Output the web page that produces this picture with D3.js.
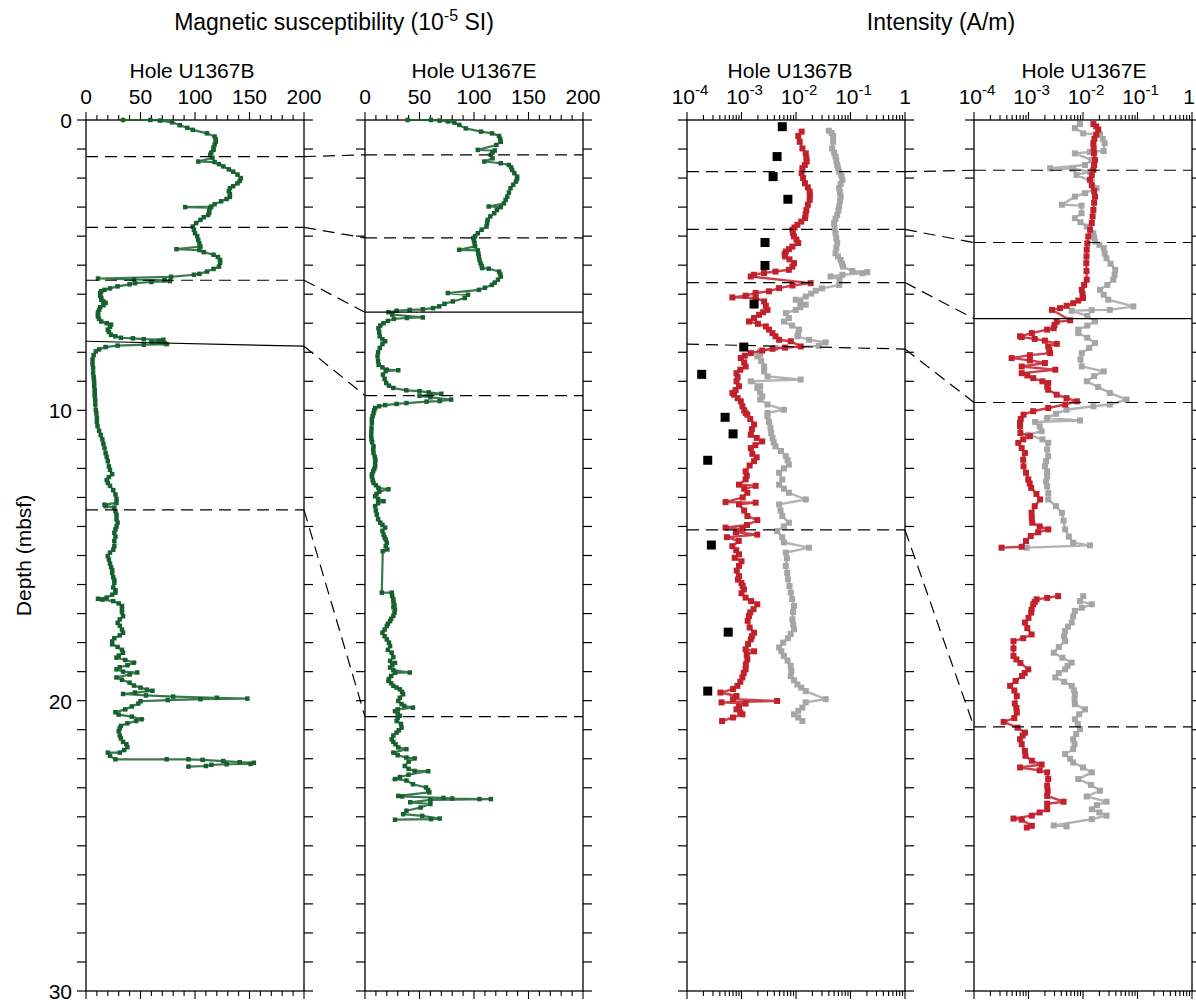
<!DOCTYPE html>
<html>
<head>
<meta charset="utf-8">
<script src="https://cdn.jsdelivr.net/npm/d3@7"></script>
<style>
  body { margin: 0; background: #fff; }
  text { font-family: "Liberation Sans", Arial, Helvetica, sans-serif; fill: #000; }
</style>
</head>
<body>
<svg id="chart" width="1196" height="1003"></svg>
<script>
// ---- axis definitions ----
const depthDomain = [0, 30];
const depthLabels = [0, 10, 20, 30];
const msDomain = [0, 200];
const msTickLabels = [0, 50, 100, 150, 200];
const intDomain = [1e-4, 1];
const intTickLabels = [1e-4, 1e-3, 1e-2, 1e-1, 1];
const holeNames = ["Hole U1367B", "Hole U1367E"];

// ---- magnetic susceptibility, [depth (mbsf), MS (10^-5 SI)] ----
const msHoleB = [
  [0.00,34],[0.00,59],[0.02,68],[0.08,79],[0.18,86],[0.27,93],[0.34,98],[0.46,111],[0.57,118],[0.66,119],
  [0.75,119],[0.85,118],[0.95,117],[1.03,117],[1.12,115],[1.20,114],[1.30,116],[1.43,103],[1.45,118],[1.52,122],
  [1.60,126],[1.70,131],[1.78,135],[1.88,139],[2.00,142],[2.10,141],[2.18,139],[2.28,135],[2.35,132],[2.45,131],
  [2.55,132],[2.65,132],[2.72,129],[2.80,124],[2.90,118],[2.98,115],[3.00,91],[3.02,114],[3.12,113],[3.20,113],
  [3.27,112],[3.35,108],[3.44,105],[3.55,101],[3.67,98],[3.78,99],[3.90,100],[4.00,102],[4.13,103],[4.25,104],
  [4.36,105],[4.45,83],[4.48,104],[4.55,108],[4.64,117],[4.72,121],[4.82,123],[4.92,123],[5.05,122],[5.13,117],
  [5.22,111],[5.30,104],[5.33,99],[5.40,78],[5.46,11],[5.49,44],[5.52,72],[5.55,77],[5.58,60],[5.62,45],
  [5.66,40],[5.73,29],[5.80,22],[5.85,17],[5.90,14],[5.96,13],[6.05,13],[6.12,14],[6.19,14],[6.25,16],
  [6.30,18],[6.38,16],[6.45,13],[6.54,12],[6.62,11],[6.70,11],[6.77,11],[6.85,12],[6.94,14],[7.00,19],
  [7.05,23],[7.12,22],[7.22,20],[7.30,21],[7.40,23],[7.45,27],[7.50,32],[7.52,43],[7.55,53],[7.57,71],
  [7.60,67],[7.65,60],[7.68,72],[7.72,74],[7.74,53],[7.77,29],[7.82,18],[7.90,12],[7.97,9],[8.10,7],
  [8.25,6],[8.40,6],[8.55,6.5],[8.71,6.5],[8.85,7],[8.94,7.3],[9.05,7.5],[9.17,7.5],[9.30,8],[9.40,8],
  [9.52,8],[9.65,8.5],[9.80,8.5],[9.98,9],[10.10,9.5],[10.25,10],[10.40,10],[10.55,10.6],[10.70,12],[10.85,13.5],
  [11.00,15],[11.15,16],[11.30,17],[11.47,18],[11.60,19],[11.75,20],[11.93,21],[12.05,22],[12.20,24],[12.30,21],
  [12.40,19],[12.50,20],[12.60,22],[12.75,25],[12.90,27],[13.05,28],[13.19,28],[13.25,17],[13.30,18],[13.35,26],
  [13.47,27],[13.60,28],[13.75,28],[13.87,29],[14.00,28],[14.10,27],[14.22,26],[14.35,27],[14.50,26],[14.68,26],
  [14.80,25],[14.90,22],[15.02,20],[15.14,21],[15.28,22],[15.40,23],[15.50,24],[15.60,24],[15.75,25],[15.85,26],
  [15.94,26],[16.10,25],[16.20,27],[16.28,27],[16.35,24],[16.45,19],[16.49,11],[16.52,15],[16.57,25],[16.65,30],
  [16.74,33],[16.85,33],[16.95,33],[17.09,34],[17.20,31],[17.32,29],[17.42,31],[17.55,33],[17.66,34],[17.75,31],
  [17.85,26],[17.96,24],[18.06,24],[18.15,29],[18.25,33],[18.35,34],[18.45,30],[18.52,28],[18.60,36],[18.69,44],
  [18.78,38],[18.85,31],[18.92,28],[19.00,34],[19.03,47],[19.10,40],[19.20,28],[19.28,33],[19.38,40],[19.48,44],
  [19.55,50],[19.62,56],[19.66,61],[19.72,45],[19.77,34],[19.82,55],[19.86,80],[19.90,120],[19.93,148],[19.95,105],
  [19.98,75],[20.02,50],[20.10,48],[20.20,42],[20.30,36],[20.40,27],[20.48,30],[20.55,42],[20.64,51],[20.70,46],
  [20.78,38],[20.87,32],[20.95,31],[21.05,30],[21.20,31],[21.30,32],[21.42,34],[21.50,37],[21.60,38],[21.70,35],
  [21.79,31],[21.79,20],[21.90,22],[22.02,27],[22.02,74],[22.02,94],[22.04,107],[22.08,126],[22.12,141],[22.14,154],
  [22.18,151],[22.19,129],[22.21,115],[22.25,110],[22.27,94]
];

const msHoleE = [
  [0.00,39],[0.00,60.5],[0.02,68.5],[0.05,76],[0.09,82],[0.17,86.5],[0.29,92.5],[0.40,106.5],[0.46,116.5],[0.55,123],
  [0.65,124],[0.75,124.5],[0.86,120.5],[1.03,103.5],[1.05,119],[1.12,117],[1.20,115.5],[1.32,117],[1.43,109.5],[1.49,124.5],
  [1.55,132],[1.63,134],[1.72,135],[1.83,137],[1.95,139.5],[2.03,139.5],[2.12,138.5],[2.23,136],[2.35,133.5],[2.50,132],
  [2.64,130.5],[2.75,129],[2.87,127.5],[2.98,113.5],[3.00,124.5],[3.10,121],[3.21,118.5],[3.32,115],[3.44,112.5],[3.55,112],
  [3.67,111.5],[3.78,107],[3.90,103.5],[4.00,101],[4.07,99.5],[4.15,100],[4.24,100.5],[4.35,101],[4.47,86.5],[4.49,103.5],
  [4.60,104],[4.70,104.5],[4.82,105],[4.93,106],[5.02,107],[5.10,107.5],[5.12,113.5],[5.22,123],[5.30,124],[5.39,124.5],
  [5.50,122],[5.60,119],[5.68,116.5],[5.78,110],[5.85,104.5],[5.96,76],[6.02,94.5],[6.13,91.5],[6.25,80.5],[6.33,73],
  [6.42,68],[6.48,62.5],[6.52,53],[6.54,41],[6.57,29],[6.62,21.5],[6.70,25],[6.80,53],[6.82,38.5],[6.85,26.5],
  [6.92,21],[7.00,17],[7.08,14],[7.17,12.3],[7.30,13],[7.45,13.5],[7.55,16],[7.62,18.5],[7.72,16],[7.85,13.5],
  [8.00,12],[8.14,11.5],[8.30,12],[8.43,12.5],[8.52,16],[8.60,20],[8.62,30.5],[8.65,19],[8.77,16.5],[8.92,18],
  [9.06,19.5],[9.15,22],[9.23,26],[9.31,38],[9.34,50],[9.38,58.5],[9.43,70],[9.47,60],[9.50,50],[9.55,60],
  [9.63,79],[9.68,68.5],[9.70,56.5],[9.75,38],[9.78,29],[9.82,18.5],[9.86,13],[9.92,9.3],[10.00,8.5],[10.10,7.8],
  [10.20,7],[10.30,6.3],[10.43,6.3],[10.60,6],[10.75,5.8],[10.90,5.7],[11.00,6],[11.10,6.5],[11.24,7.8],[11.35,7.5],
  [11.47,7.8],[11.60,9],[11.70,9.5],[11.80,9.3],[11.93,9.3],[12.02,8.5],[12.10,7.5],[12.20,6.5],[12.27,6.3],[12.40,7],
  [12.50,7.8],[12.58,10],[12.67,12.3],[12.72,21.5],[12.80,13],[12.88,10.5],[12.96,9.3],[13.05,12],[13.13,17],[13.20,12],
  [13.30,9.3],[13.45,10],[13.59,10.8],[13.75,12],[13.87,14],[13.95,16],[14.04,18.5],[14.15,16],[14.28,17],[14.38,18],
  [14.45,19],[14.56,20],[14.68,19],[14.79,20.5],[14.85,16.3],[16.28,15.4],[16.28,24.5],[16.40,25],[16.51,26],[16.60,26],
  [16.70,27],[16.78,26],[16.86,27.5],[16.97,27],[17.08,26],[17.18,24],[17.26,23],[17.35,21],[17.43,20],[17.55,18],
  [17.66,16],[17.78,18],[17.89,20],[18.00,22],[18.12,23],[18.25,21],[18.35,24.5],[18.50,26],[18.63,23],[18.70,27.5],
  [18.78,25],[18.86,23],[18.95,26],[19.03,41],[19.04,27.5],[19.15,24],[19.25,22],[19.32,21.5],[19.40,24],[19.49,26],
  [19.55,29],[19.61,32],[19.70,34],[19.78,35],[19.90,32],[20.01,30.5],[20.12,33.5],[20.18,36],[20.24,44],[20.30,30],
  [20.36,27.5],[20.45,30],[20.52,32],[20.60,30],[20.70,29],[20.80,33],[20.93,33.5],[21.02,31],[21.10,29],[21.20,26],
  [21.33,24.5],[21.42,26],[21.50,28],[21.61,30.5],[21.67,38],[21.79,26],[21.88,30],[21.96,38],[21.99,45.5],[22.10,40],
  [22.25,36.5],[22.35,40],[22.42,45.5],[22.43,58],[22.55,40],[22.63,32],[22.70,27.5],[22.75,38],[22.88,44],[22.99,56],
  [23.08,58],[23.16,59],[23.28,30.5],[23.30,34],[23.35,72],[23.37,80],[23.39,105],[23.39,115.5],[23.42,60],[23.50,41.5],
  [23.56,60],[23.68,51],[23.79,38],[23.91,35],[23.97,52.5],[24.06,68.5],[24.08,60.5],[24.10,27.5]
];

// ---- remanence intensity, [depth (mbsf), intensity (A/m)] ----
// Hole U1367B, after demagnetization (red)
const intDemagB = [
  [0.40,1.27e-2],[0.55,1.10e-2],[0.75,1.17e-2],[0.98,1.31e-2],[1.15,1.51e-2],[1.30,1.55e-2],[1.43,1.57e-2],[1.55,1.45e-2],[1.66,1.31e-2],[1.83,1.27e-2],
  [2.00,1.35e-2],[2.18,1.46e-2],[2.32,1.65e-2],[2.47,1.78e-2],[2.60,1.80e-2],[2.75,1.78e-2],[2.92,1.65e-2],[3.10,1.55e-2],[3.25,1.50e-2],[3.38,1.46e-2],
  [3.50,1.25e-2],[3.61,1.06e-2],[3.70,9.4e-3],[3.78,8.6e-3],[3.90,8.8e-3],[4.01,9.2e-3],[4.12,1.02e-2],[4.24,1.10e-2],[4.36,8.6e-3],[4.45,7.4e-3],
  [4.53,6.5e-3],[4.62,6.2e-3],[4.70,6.3e-3],[4.80,7.6e-3],[4.93,9.2e-3],[5.05,8.6e-3],[5.16,7.4e-3],[5.22,4.2e-3],[5.27,2.6e-3],[5.33,1.7e-3],
  [5.39,1.48e-3],[5.62,1.86e-2],[5.70,8.6e-3],[5.79,4.9e-3],[5.90,3.2e-3],[5.96,1.82e-3],[6.05,1.19e-3],[6.11,6.8e-4],[6.13,1.82e-3],[6.25,2.6e-3],
  [6.40,2.8e-3],[6.54,3.0e-3],[6.62,2.5e-3],[6.71,2.1e-3],[6.82,1.7e-3],[6.94,1.37e-3],[7.02,2.0e-3],[7.11,2.8e-3],[7.22,3.2e-3],[7.34,3.7e-3],
  [7.45,4.2e-3],[7.57,4.9e-3],[7.62,8.0e-3],[7.80,1.22e-2],[7.84,6.3e-3],[7.88,3.7e-3],[7.94,2.4e-3],[8.03,1.48e-3],[8.12,1.15e-3],[8.20,9.7e-4],
  [8.35,1.12e-3],[8.49,1.19e-3],[8.60,9.5e-4],[8.72,8.1e-4],[8.86,8.5e-4],[9.00,8.1e-4],[9.17,9.0e-4],[9.30,7.8e-4],[9.40,6.8e-4],[9.46,7.3e-4],
  [9.58,8.5e-4],[9.69,9.7e-4],[9.86,1.04e-3],[10.00,1.12e-3],[10.09,1.19e-3],[10.15,1.28e-3],[10.30,1.45e-3],[10.49,1.70e-3],[10.65,1.55e-3],[10.84,1.48e-3],
  [10.95,1.9e-3],[11.07,2.4e-3],[11.20,1.8e-3],[11.30,1.48e-3],[11.50,1.58e-3],[11.62,1.9e-3],[11.75,1.70e-3],[11.90,1.41e-3],[12.10,1.19e-3],[12.25,1.25e-3],
  [12.38,1.19e-3],[12.56,9.0e-4],[12.60,1.82e-3],[12.70,1.12e-3],[12.84,1.28e-3],[13.00,1.05e-3],[13.16,5.1e-4],[13.18,1.82e-3],[13.24,9.0e-4],[13.45,1.12e-3],
  [13.64,1.28e-3],[13.78,1.95e-3],[13.95,1.26e-3],[14.04,5.1e-4],[14.08,1.04e-3],[14.20,7.9e-4],[14.28,1.95e-3],[14.37,5.4e-4],[14.50,8.9e-4],[14.68,6.8e-4],
  [14.82,8.0e-4],[14.96,9.0e-4],[15.08,7.5e-4],[15.20,1.0e-3],[15.36,9.0e-4],[15.52,8.2e-4],[15.71,9.0e-4],[15.83,8.6e-4],[15.95,1.0e-3],[16.05,1.05e-3],
  [16.17,1.11e-3],[16.30,1.0e-3],[16.45,1.19e-3],[16.57,1.5e-3],[16.68,1.95e-3],[16.85,1.66e-3],[16.96,1.45e-3],[17.08,1.37e-3],[17.25,1.3e-3],[17.48,1.41e-3],
  [17.66,1.70e-3],[17.78,1.55e-3],[17.89,1.48e-3],[18.05,1.32e-3],[18.23,1.19e-3],[18.30,1.70e-3],[18.42,1.25e-3],[18.58,1.28e-3],[18.75,1.2e-3],[18.92,1.19e-3],
  [19.05,1.1e-3],[19.20,1.04e-3],[19.35,9.5e-4],[19.49,8.4e-4],[19.60,7.0e-4],[19.72,4.1e-4],[19.84,8.1e-4],[19.95,7.0e-4],[20.01,4.5e-3],[20.06,4.3e-4],
  [20.10,1.19e-3],[20.20,9.0e-4],[20.30,8.1e-4],[20.40,9.5e-4],[20.47,1.04e-3],[20.58,7.0e-4],[20.70,4.4e-4]
];
// Hole U1367B, natural remanence (gray)
const intNrmB = [
  [0.37,4.0e-2],[0.45,4.5e-2],[0.55,4.8e-2],[0.75,4.8e-2],[0.98,4.6e-2],[1.12,5.0e-2],[1.26,5.3e-2],[1.40,5.5e-2],[1.55,5.7e-2],[1.66,5.9e-2],
  [1.78,6.2e-2],[1.92,6.8e-2],[2.06,7.1e-2],[2.20,6.6e-2],[2.35,6.2e-2],[2.50,6.4e-2],[2.64,6.6e-2],[2.80,6.4e-2],[2.98,6.2e-2],[3.12,6.0e-2],
  [3.27,5.7e-2],[3.40,5.3e-2],[3.55,5.0e-2],[3.72,5.1e-2],[3.90,5.3e-2],[4.07,5.5e-2],[4.24,5.7e-2],[4.40,5.5e-2],[4.59,5.3e-2],[4.70,5.9e-2],
  [4.82,6.6e-2],[4.95,7.0e-2],[5.05,7.3e-2],[5.20,1.08e-1],[5.24,2.03e-1],[5.28,1.66e-1],[5.33,7.1e-2],[5.39,4.3e-2],[5.50,6.3e-2],[5.68,6.2e-2],
  [5.80,3.0e-2],[5.88,2.3e-2],[5.98,1.9e-2],[6.08,1.51e-2],[6.19,9.9e-3],[6.27,1.2e-2],[6.36,1.51e-2],[6.45,1.2e-2],[6.54,9.9e-3],[6.65,6.5e-3],
  [6.82,7.4e-3],[6.94,6.0e-3],[7.08,8.5e-3],[7.22,1.14e-2],[7.34,1.1e-2],[7.45,1.06e-2],[7.57,1.73e-2],[7.66,3.5e-2],[7.78,2.6e-2],[7.85,4.2e-3],
  [7.97,2.2e-3],[8.08,2.2e-3],[8.14,1.95e-3],[8.30,2.3e-3],[8.49,2.6e-3],[8.66,2.6e-3],[8.83,3.0e-3],[8.94,1.22e-2],[9.00,1.48e-3],[9.17,2.2e-3],
  [9.23,1.95e-3],[9.38,2.2e-3],[9.52,2.4e-3],[9.63,2.2e-3],[9.80,3.0e-3],[9.98,6.0e-3],[10.09,3.0e-3],[10.20,3.0e-3],[10.40,3.2e-3],[10.60,3.4e-3],
  [10.78,3.5e-3],[10.95,3.7e-3],[11.10,3.9e-3],[11.24,4.2e-3],[11.40,5.3e-3],[11.58,6.5e-3],[11.72,7.0e-3],[11.87,7.4e-3],[12.00,6.0e-3],[12.15,4.9e-3],
  [12.38,5.6e-3],[12.56,4.9e-3],[12.70,6.0e-3],[12.84,7.4e-3],[13.07,1.51e-2],[13.24,4.9e-3],[13.45,5.2e-3],[13.64,5.6e-3],[13.87,7.4e-3],[14.00,6.0e-3],
  [14.16,4.5e-3],[14.37,5.6e-3],[14.55,6.0e-3],[14.73,1.73e-2],[14.90,6.5e-3],[15.10,6.8e-3],[15.36,6.5e-3],[15.60,6.9e-3],[15.82,7.1e-3],[16.05,7.6e-3],
  [16.28,8.0e-3],[16.50,8.5e-3],[16.74,9.2e-3],[16.95,8.8e-3],[17.20,8.6e-3],[17.38,8.9e-3],[17.54,9.2e-3],[17.70,8.0e-3],[17.85,7.1e-3],[18.00,5.8e-3],
  [18.17,4.9e-3],[18.30,5.4e-3],[18.46,6.0e-3],[18.62,7.0e-3],[18.80,8.0e-3],[18.98,8.2e-3],[19.15,8.0e-3],[19.30,9.2e-3],[19.44,1.06e-2],[19.55,1.25e-2],
  [19.67,1.51e-2],[19.95,3.5e-2],[20.06,1.51e-2],[20.24,1.31e-2],[20.35,1.1e-2],[20.47,9.2e-3],[20.58,1.1e-2],[20.70,1.31e-2]
];
// Hole U1367B, discrete samples (black)
const intDiscreteB = [
  [0.23,5.6e-3],[1.26,4.5e-3],[1.95,3.8e-3],[2.73,7.1e-3],[4.22,2.7e-3],[5.01,2.7e-3],[6.34,1.7e-3],[7.82,1.1e-3],
  [8.76,1.86e-4],[10.24,5.0e-4],[10.81,7.0e-4],[11.72,2.4e-4],[14.64,2.8e-4],[17.64,5.7e-4],[19.67,2.4e-4]
];
// Hole U1367E, after demagnetization (red); null marks a gap between cores
const intDemagE = [
  [0.14,1.55e-2],[0.22,1.75e-2],[0.33,1.91e-2],[0.50,1.75e-2],[0.65,1.62e-2],[0.80,1.55e-2],[0.98,1.57e-2],[1.15,1.59e-2],[1.38,1.66e-2],[1.55,1.6e-2],
  [1.72,1.55e-2],[1.90,1.45e-2],[2.06,1.34e-2],[2.25,1.45e-2],[2.45,1.6e-2],[2.64,1.66e-2],[2.85,1.6e-2],[3.10,1.55e-2],[3.32,1.5e-2],[3.55,1.45e-2],
  [3.78,1.35e-2],[4.01,1.25e-2],[4.25,1.2e-2],[4.47,1.17e-2],[4.70,1.16e-2],[4.93,1.15e-2],[5.20,1.16e-2],[5.50,1.17e-2],[5.68,1.05e-2],[5.85,9.5e-3],
  [6.00,9.8e-3],[6.13,1.0e-2],[6.22,8.2e-3],[6.31,6.6e-3],[6.40,5.0e-3],[6.48,3.8e-3],[6.54,2.7e-3],[6.90,5.8e-3],[6.95,3.3e-3],[7.06,3.0e-3],
  [7.17,2.9e-3],[7.22,2.2e-3],[7.34,1.15e-3],[7.45,7.0e-4],[7.48,7.5e-4],[7.54,1.3e-3],[7.60,2.0e-3],[7.71,3.3e-3],[7.80,2.3e-3],[7.92,2.4e-3],
  [8.03,2.5e-3],[8.10,1.06e-3],[8.20,4.9e-4],[8.28,1.06e-3],[8.37,2.0e-3],[8.49,7.5e-4],[8.60,3.1e-3],[8.72,7.5e-4],[8.80,9.5e-4],[8.89,1.22e-3],
  [9.00,1.8e-3],[9.06,2.3e-3],[9.18,2.2e-3],[9.29,2.3e-3],[9.46,3.3e-3],[9.58,5.0e-3],[9.69,7.7e-3],[9.80,4.7e-3],[9.92,2.3e-3],[10.03,1.22e-3],
  [10.15,8.1e-4],[10.30,7.2e-4],[10.43,7.0e-4],[10.55,7.0e-4],[10.78,7.1e-4],[10.89,1.06e-3],[11.00,8.0e-4],[11.12,6.5e-4],[11.30,7.5e-4],[11.47,8.6e-4],
  [11.70,8.0e-4],[11.93,8.1e-4],[12.15,9.0e-4],[12.38,9.9e-4],[12.52,1.05e-3],[12.67,1.12e-3],[12.88,1.4e-3],[13.07,1.63e-3],[13.30,1.3e-3],[13.53,1.14e-3],
  [13.70,1.15e-3],[13.87,1.17e-3],[14.00,1.6e-3],[14.10,2.3e-3],[14.20,1.5e-3],[14.33,1.10e-3],[14.50,9.0e-4],[14.70,7.5e-4],[14.73,3.2e-4],
  [15.50,null],
  [16.40,3.5e-3],[16.46,2.2e-3],[16.51,1.41e-3],[16.60,1.3e-3],[16.68,1.22e-3],[16.86,1.14e-3],[16.97,1.12e-3],[17.15,1.0e-3],[17.31,8.6e-4],[17.50,9.5e-4],
  [17.72,1.14e-3],[17.85,8.0e-4],[17.95,5.3e-4],[18.20,5.3e-4],[18.46,5.3e-4],[18.58,6.0e-4],[18.70,7.1e-4],[18.92,9.9e-4],[19.05,8.5e-4],[19.15,7.6e-4],
  [19.32,5.8e-4],[19.49,4.6e-4],[19.65,5.5e-4],[19.84,6.1e-4],[20.10,5.6e-4],[20.25,6.0e-4],[20.41,6.1e-4],[20.60,5.5e-4],[20.73,3.5e-4],[20.93,6.3e-4],
  [21.10,8.6e-4],[21.20,7.8e-4],[21.33,7.0e-4],[21.50,7.5e-4],[21.73,8.6e-4],[21.90,8.8e-4],[22.07,1.15e-3],[22.20,1.74e-3],[22.30,7.0e-4],[22.40,1.6e-3],
  [22.47,2.2e-3],[22.70,2.3e-3],[22.93,2.2e-3],[23.10,2.25e-3],[23.28,2.2e-3],[23.48,4.4e-3],[23.55,2.2e-3],[23.74,2.2e-3],[23.85,1.6e-3],[23.96,1.15e-3],
  [24.06,5.3e-4],[24.10,7.5e-4],[24.31,1.15e-3],[24.37,9.3e-4]
];
// Hole U1367E, natural remanence (gray); null marks a gap between cores
const intNrmE = [
  [0.14,8.8e-3],[0.28,7.1e-3],[0.46,1.01e-2],[0.50,2.05e-2],[0.65,2.3e-2],[0.80,2.5e-2],[1.07,2.4e-2],[1.10,1.34e-2],[1.15,7.1e-3],[1.38,1.44e-2],
  [1.55,1.09e-2],[1.66,2.5e-3],[1.68,6.6e-3],[1.78,1.34e-2],[1.89,7.6e-3],[2.12,1.44e-2],[2.35,1.78e-2],[2.52,1.09e-2],[2.64,7.1e-3],[2.92,4.1e-3],
  [2.95,9.4e-3],[3.21,9.4e-3],[3.38,7.1e-3],[3.52,9.0e-3],[3.67,1.17e-2],[3.90,1.55e-2],[4.05,1.6e-2],[4.18,1.66e-2],[4.30,2.0e-2],[4.41,2.4e-2],
  [4.60,2.5e-2],[4.76,2.7e-2],[4.95,3.2e-2],[5.16,3.9e-2],[5.33,3.8e-2],[5.50,3.6e-2],[5.68,2.8e-2],[5.85,2.05e-2],[6.02,2.4e-2],[6.19,2.9e-2],
  [6.42,8.4e-2],[6.54,3.1e-2],[6.55,1.44e-2],[6.57,6.2e-3],[6.75,1.2e-2],[6.94,1.66e-2],[7.08,1.2e-2],[7.22,8.2e-3],[7.34,8.2e-3],[7.50,1.2e-2],
  [7.68,1.66e-2],[7.85,1.3e-2],[8.03,9.5e-3],[8.25,9.0e-3],[8.49,9.5e-3],[8.66,2.4e-2],[8.82,1.6e-2],[9.00,1.17e-2],[9.20,1.9e-2],[9.40,3.1e-2],
  [9.63,6.3e-2],[9.80,3.1e-2],[9.86,1.55e-2],[9.98,5.0e-3],[10.12,3.2e-3],[10.26,2.2e-3],[10.35,8.8e-3],[10.40,1.32e-3],[10.55,1.6e-3],[10.72,1.74e-3],
  [10.84,9.9e-4],[11.00,1.8e-3],[11.12,2.3e-3],[11.35,2.2e-3],[11.58,2.3e-3],[11.75,2.1e-3],[11.93,2.0e-3],[12.10,2.2e-3],[12.27,2.2e-3],[12.45,2.1e-3],
  [12.62,2.2e-3],[12.85,2.3e-3],[13.07,2.3e-3],[13.30,3.2e-3],[13.53,4.1e-3],[13.80,4.4e-3],[14.10,4.7e-3],[14.35,5.5e-3],[14.56,6.6e-3],[14.65,1.34e-2],
  [14.73,9.3e-4],
  [15.50,null],
  [16.40,1.01e-2],[16.57,8.8e-3],[16.68,1.45e-2],[16.80,9.5e-3],[16.91,7.1e-3],[17.10,6.6e-3],[17.31,6.2e-3],[17.45,5.3e-3],[17.60,4.7e-3],[17.78,4.5e-3],
  [17.95,4.7e-3],[18.15,3.6e-3],[18.35,2.9e-3],[18.52,4.2e-3],[18.69,6.2e-3],[18.80,5.2e-3],[18.92,4.7e-3],[19.05,3.6e-3],[19.20,3.1e-3],[19.35,4.5e-3],
  [19.49,6.2e-3],[19.64,6.8e-3],[19.78,7.1e-3],[19.95,7.0e-3],[20.12,7.1e-3],[20.30,1.09e-2],[20.47,8.5e-3],[20.64,7.1e-3],[20.80,8.0e-3],[20.98,8.8e-3],
  [21.15,7.5e-3],[21.33,6.6e-3],[21.50,7.0e-3],[21.67,6.6e-3],[21.84,4.7e-3],[22.00,5.8e-3],[22.13,6.6e-3],[22.30,1.0e-2],[22.47,1.45e-2],[22.70,8.2e-3],
  [22.90,1.4e-2],[23.10,2.05e-2],[23.30,1.17e-2],[23.48,2.7e-2],[23.60,1.8e-2],[23.74,1.45e-2],[23.85,2.0e-2],[23.96,2.7e-2],[24.08,1.45e-2],[24.30,2.9e-3],
  [24.33,5.0e-3]
];

// ---- core correlation ties, depths in mbsf; B lines given at left and right panel edges ----
const msTiesB = [[1.26,1.26],[3.70,3.70],[5.52,5.52],[7.62,7.79],[13.43,13.43]];
const msTiesE = [1.20, 4.06, 6.62, 9.49, 20.55];
const msTieSolidB = [false, false, false, true, false];
const msTieSolidE = [false, false, true, false, false];
const intTiesB = [[1.78,1.78],[3.77,3.77],[5.60,5.60],[7.72,7.89],[14.12,14.12]];
const intTiesE = [1.73, 4.22, 6.84, 9.73, 20.90];
const intTieSolidE = [false, false, true, false, false];

// ---- layout ----
const svg = d3.select("#chart");
const yTop = 120, yBottom = 991;
const y = d3.scaleLinear().domain(depthDomain).range([yTop, yBottom]);

const colGreen = "#17602f", colRed = "#c2202b", colGray = "#a5a5a5";
const dash = "12,7";

const xMS = [
  d3.scaleLinear().domain(msDomain).range([86, 304]),
  d3.scaleLinear().domain(msDomain).range([365, 583])
];
const xInt = [
  d3.scaleLog().domain(intDomain).range([687, 905]),
  d3.scaleLog().domain(intDomain).range([974, 1192])
];
const msTitleX = [192, 474];
const intTitleX = [790, 1084];

// group titles
const t1 = svg.append("text").attr("x", 334).attr("y", 30).attr("text-anchor", "middle").attr("font-size", 23)
  .text("Magnetic susceptibility (10");
t1.append("tspan").attr("dy", -9).attr("font-size", 16).text("-5");
t1.append("tspan").attr("dy", 9).text(" SI)");
svg.append("text").attr("x", 941).attr("y", 30).attr("text-anchor", "middle").attr("font-size", 23)
  .text("Intensity (A/m)");

// depth axis title
svg.append("text").attr("transform", `translate(31,${(yTop + yBottom) / 2}) rotate(-90)`)
  .attr("text-anchor", "middle").attr("font-size", 21).text("Depth (mbsf)");

function frame(x) {
  const [x0, x1] = x.range();
  const g = svg.append("g");
  g.append("rect").attr("x", x0).attr("y", yTop).attr("width", x1 - x0).attr("height", yBottom - yTop)
    .attr("fill", "none").attr("stroke", "#000").attr("stroke-width", 1.3);
  // depth ticks on both sides, outward
  const dt = d3.range(0, 31, 1);
  g.selectAll(null).data(dt).join("line")
    .attr("x1", x0 - 9).attr("x2", x0).attr("y1", d => y(d)).attr("y2", d => y(d))
    .attr("stroke", "#000").attr("stroke-width", 1.2);
  g.selectAll(null).data(dt).join("line")
    .attr("x1", x1).attr("x2", x1 + 9).attr("y1", d => y(d)).attr("y2", d => y(d))
    .attr("stroke", "#000").attr("stroke-width", 1.2);
  return g;
}

function xTicks(g, x, ticks, isMajor) {
  [yTop, yBottom].forEach(yy => {
    const dir = yy === yTop ? -1 : 1;
    g.selectAll(null).data(ticks).join("line")
      .attr("x1", d => x(d)).attr("x2", d => x(d))
      .attr("y1", yy).attr("y2", d => yy + dir * (isMajor(d) ? 8 : 5))
      .attr("stroke", "#000").attr("stroke-width", 1.1);
  });
}

function holeTitle(cx, i) {
  svg.append("text").attr("x", cx).attr("y", 78).attr("text-anchor", "middle")
    .attr("font-size", 21).text(holeNames[i]);
}

function marks(g, x, data, color, size, lineW) {
  const line = d3.line().defined(d => d[1] != null).x(d => x(d[1])).y(d => y(d[0]));
  g.append("path").attr("d", line(data)).attr("fill", "none")
    .attr("stroke", color).attr("stroke-width", lineW).attr("stroke-opacity", 0.85);
  g.selectAll(null).data(data.filter(d => d[1] != null)).join("rect")
    .attr("x", d => x(d[1]) - size / 2).attr("y", d => y(d[0]) - size / 2)
    .attr("width", size).attr("height", size).attr("fill", color);
}

// ---- MS panels ----
xMS.forEach((x, i) => {
  const g = frame(x);
  const t = d3.range(0, 201, 10);
  xTicks(g, x, t, d => d % 50 === 0);
  g.selectAll(null).data(msTickLabels).join("text")
    .attr("x", d => x(d)).attr("y", 104).attr("text-anchor", "middle").attr("font-size", 21).text(d => d);
  holeTitle(msTitleX[i], i);
  marks(svg.append("g"), x, i === 0 ? msHoleB : msHoleE, colGreen, 4.5, 2.2);
});

// depth labels
svg.selectAll(null).data(depthLabels).join("text")
  .attr("x", 72).attr("y", d => y(d) + 8).attr("text-anchor", "end").attr("font-size", 21).text(d => d);

// ---- intensity panels ----
xInt.forEach((x, i) => {
  const g = frame(x);
  const t = [];
  for (let e = -4; e < 0; e++) for (let m = 1; m < 10; m++) t.push(m * Math.pow(10, e));
  t.push(1);
  xTicks(g, x, t, d => Math.abs(Math.log10(d) - Math.round(Math.log10(d))) < 1e-9);
  intTickLabels.forEach(v => {
    const e = Math.round(Math.log10(v));
    const txt = svg.append("text").attr("y", 104).attr("font-size", 21);
    if (e === 0) {
      // keep the last label inside the canvas
      const xr = Math.min(x(v) + 6, 1195);
      txt.attr("x", xr).attr("text-anchor", "end").text("1");
    } else {
      txt.attr("x", x(v) + 3).attr("text-anchor", "middle").text("10");
      txt.append("tspan").attr("dy", -9).attr("font-size", 15).text(String(e));
    }
  });
  holeTitle(intTitleX[i], i);
  const gm = svg.append("g");
  if (i === 0) {
    marks(gm, x, intNrmB, colGray, 6, 2.4);
    marks(gm, x, intDemagB, colRed, 6, 2.4);
    gm.selectAll(null).data(intDiscreteB).join("rect")
      .attr("x", d => x(d[1]) - 4.5).attr("y", d => y(d[0]) - 4.5)
      .attr("width", 9).attr("height", 9).attr("fill", "#000");
  } else {
    marks(gm, x, intNrmE, colGray, 6, 2.4);
    marks(gm, x, intDemagE, colRed, 6, 2.4);
  }
});

// ---- correlation ties ----
function ties(xa, xb, tiesA, tiesB, solidA, solidB) {
  const [a0, a1] = xa.range();
  const [b0, b1] = xb.range();
  const g = svg.append("g").attr("fill", "none").attr("stroke", "#000").attr("stroke-width", 1.2);
  tiesA.forEach((d, k) => {
    g.append("line").attr("x1", a0).attr("x2", a1).attr("y1", y(d[0])).attr("y2", y(d[1]))
      .attr("stroke-dasharray", solidA[k] ? null : dash);
    g.append("line").attr("x1", a1).attr("x2", b0).attr("y1", y(d[1])).attr("y2", y(tiesB[k]))
      .attr("stroke-dasharray", dash);
    g.append("line").attr("x1", b0).attr("x2", b1).attr("y1", y(tiesB[k])).attr("y2", y(tiesB[k]))
      .attr("stroke-dasharray", solidB[k] ? null : dash);
  });
}
ties(xMS[0], xMS[1], msTiesB, msTiesE, msTieSolidB, msTieSolidE);
ties(xInt[0], xInt[1], intTiesB, intTiesE, [false, false, false, false, false], intTieSolidE);
</script>
</body>
</html>
